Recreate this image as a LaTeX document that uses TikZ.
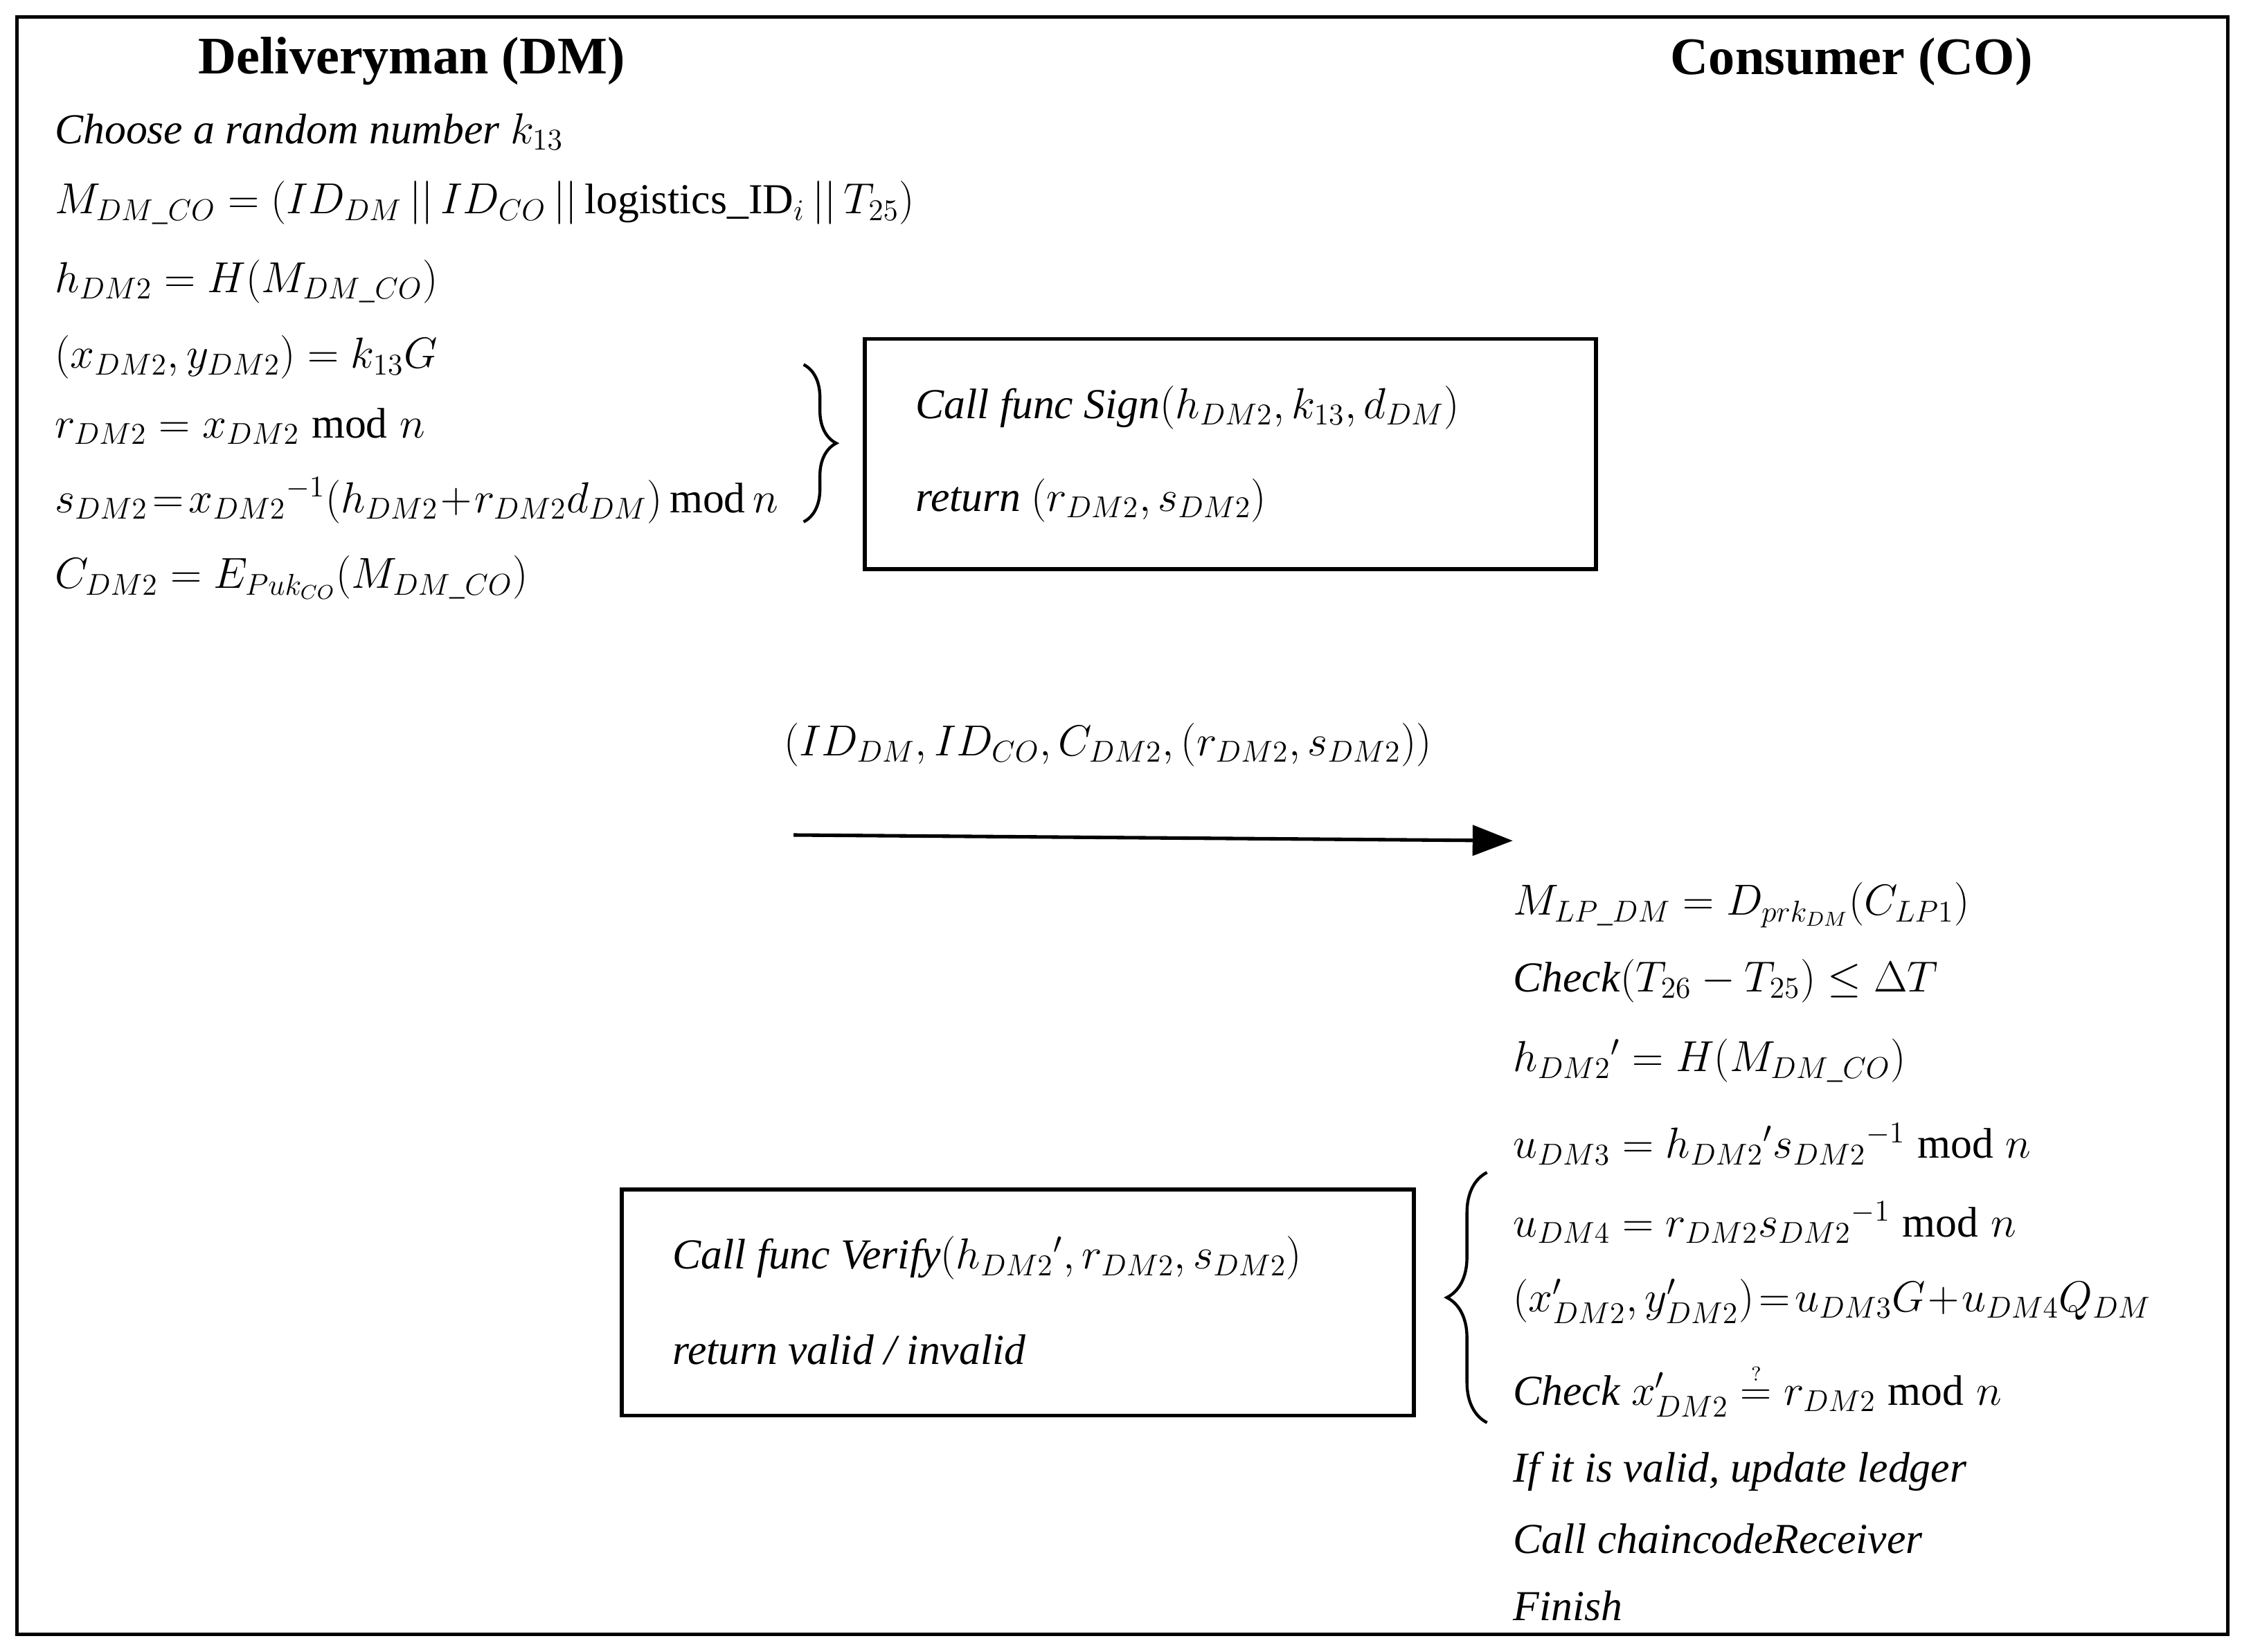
\documentclass[tikz,border=0pt]{standalone}
\usepackage{amsmath}
\usepackage{fontspec}
\setmainfont{Liberation Serif}
\usetikzlibrary{decorations.pathreplacing,arrows.meta}
\begin{document}
\begin{tikzpicture}[x=0.02cm,y=-0.02cm,
  txt/.style={anchor=west,inner sep=0pt,font=\fontsize{17}{21}\selectfont},
  ttl/.style={inner sep=0pt,font=\fontsize{21}{25}\selectfont\bfseries},
  box/.style={draw,line width=1.6pt},
  frame/.style={draw,line width=1.4pt}]
\useasboundingbox (0,0) rectangle (1568,1155);
\draw[frame] (12,12) rectangle (1558,1143);
\node[ttl] (dm) at (288,43) {Deliveryman (DM)};
\node[ttl] (co) at (1295,43) {Consumer (CO)};
% left column
\node[txt] (l1) at (38,92) {\textit{Choose a random number} $k_{13}$};
\node[txt] (l2) at (38,142) {$M_{DM\_CO}=(ID_{DM}\,||\,ID_{CO}\,||\,\text{logistics}\_\mathrm{ID}_i\,||\,T_{25})$};
\node[txt] (l3) at (38,197) {$h_{DM2}=H(M_{DM\_CO})$};
\node[txt] (l4) at (38,250) {$(x_{DM2},y_{DM2})=k_{13}G$};
\node[txt] (l5) at (38,298) {$r_{DM2}=x_{DM2}\bmod n$};
\node[txt] (l6) at (38,350) {$s_{DM2}\!=\!x_{DM2}{}^{-1}(h_{DM2}\!+\!r_{DM2}d_{DM})\,\mathrm{mod}\,n$};
\node[txt] (l7) at (38,404) {$C_{DM2}=E_{Puk_{CO}}(M_{DM\_CO})$};
\draw[line width=1.2pt,decorate,decoration={brace,amplitude=13pt}] (562,255) -- (562,365);
\draw[box] (605,237) rectangle (1116,398);
\node[txt] (b1a) at (640,285) {\textit{Call func Sign}$(h_{DM2},k_{13},d_{DM})$};
\node[txt] (b1b) at (640,350) {\textit{return} $(r_{DM2},s_{DM2})$};
% message
\node[txt] (msg) at (548,521) {$(ID_{DM},ID_{CO},C_{DM2},(r_{DM2},s_{DM2}))$};
\coordinate (a1) at (555,584);
\coordinate (a2) at (1058,588);
\draw[line width=1.4pt,-{Triangle[length=16pt,width=12pt]}] (a1) -- (a2);
% right column
\node[txt] (r1) at (1058,633) {$M_{LP\_DM}=D_{prk_{DM}}(C_{LP1})$};
\node[txt] (r2) at (1058,686) {\textit{Check}$(T_{26}-T_{25})\le\Delta T$};
\node[txt] (r3) at (1058,742) {$h_{DM2}{}'=H(M_{DM\_CO})$};
\node[txt] (r4) at (1058,800) {$u_{DM3}=h_{DM2}{}'s_{DM2}{}^{-1}\bmod n$};
\node[txt] (r5) at (1058,855) {$u_{DM4}=r_{DM2}s_{DM2}{}^{-1}\bmod n$};
\node[txt] (r6) at (1058,910) {$(x'_{DM2},y'_{DM2})\!=\!u_{DM3}G\!+\!u_{DM4}Q_{DM}$};
\node[txt] (r7) at (1058,972) {\textit{Check} $x'_{DM2}\mathrel{\overset{\scriptscriptstyle ?}{=}}r_{DM2}\bmod n$};
\node[txt] (r8) at (1058,1029) {\textit{If it is valid, update ledger}};
\node[txt] (r9) at (1058,1076) {\textit{Call chaincodeReceiver}};
\node[txt] (r10) at (1058,1123) {\textit{Finish}};
\draw[line width=1.2pt,decorate,decoration={brace,amplitude=16pt}] (1040,995) -- (1040,820);
\draw[box] (435,832) rectangle (989,990);
\node[txt] (b2a) at (470,880) {\textit{Call func Verify}$(h_{DM2}{}',r_{DM2},s_{DM2})$};
\node[txt] (b2b) at (470,944) {\textit{return valid / invalid}};
\end{tikzpicture}
\end{document}
